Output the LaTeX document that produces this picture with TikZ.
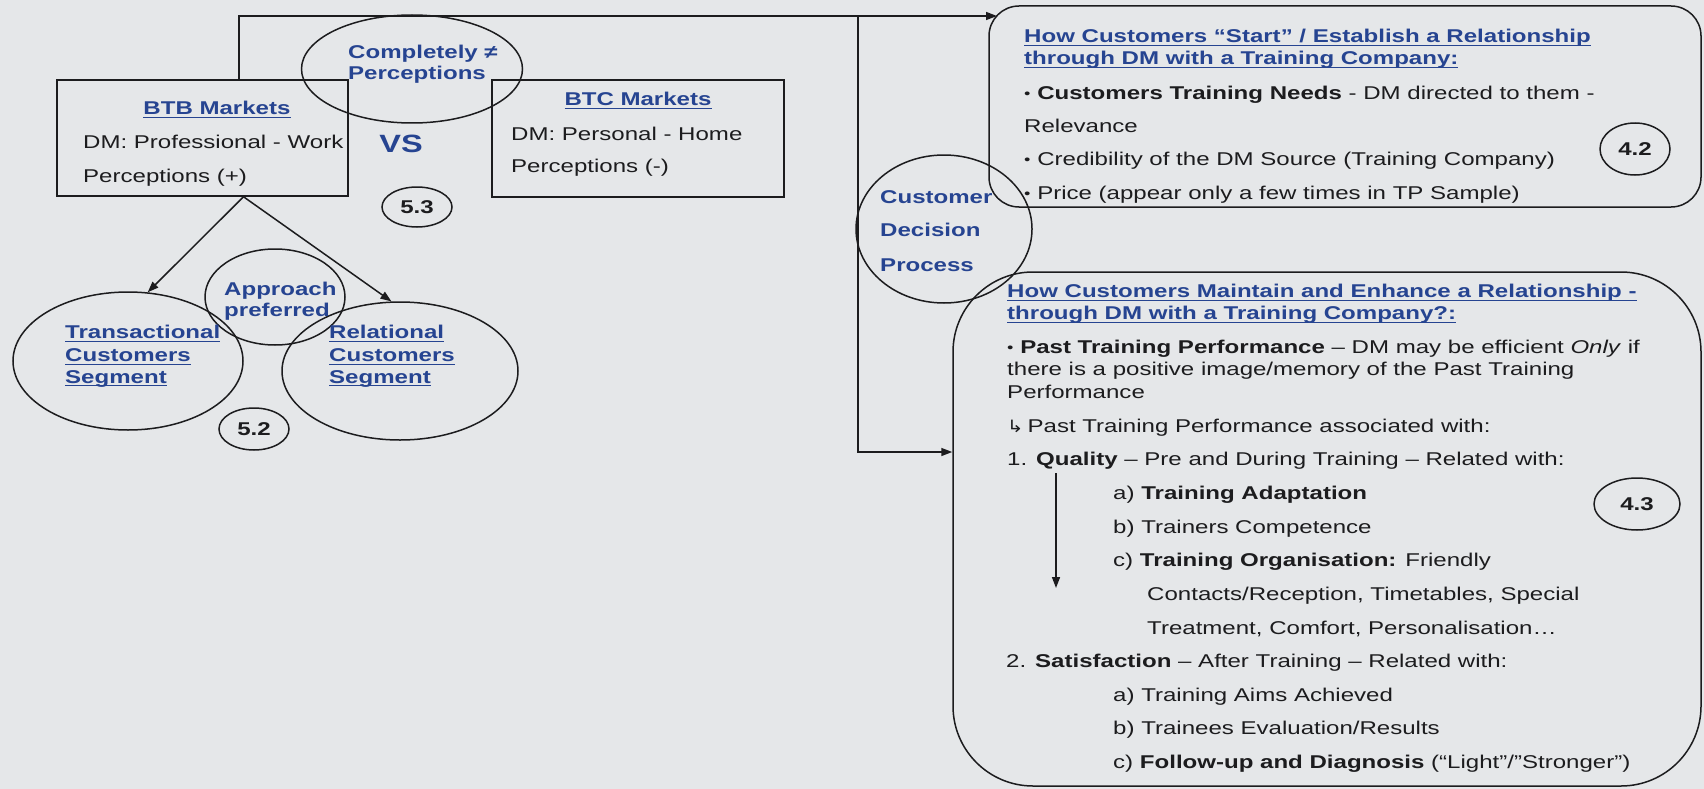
\documentclass[tikz,border=0pt]{standalone}
\usepackage{fontspec}
\setmainfont{Liberation Sans}[FakeStretch=1.3]
\newfontfamily\arrowfont{DejaVu Sans}[FakeStretch=1.15]
\usetikzlibrary{shapes.geometric,arrows.meta}
\definecolor{paper}{RGB}{229,231,233}
\definecolor{ink}{RGB}{28,28,30}
\definecolor{navy}{RGB}{38,68,145}
% underlined heading text: a rule drawn below the box in the current colour
\newcommand\undl[1]{\setbox0\hbox{#1}\rlap{\rule[-3.2pt]{\wd0}{1.1pt}}\box0}
% small list bullet
\newcommand\bul{\raisebox{1.2pt}{\fontsize{14}{14}\selectfont •}}
\begin{document}
\begin{tikzpicture}[x=1pt,y=-1pt,
  every node/.style={inner sep=0pt, text=ink, font=\fontsize{18.5}{22}\selectfont},
  txt/.style={anchor=base west},
  hd/.style={anchor=base west, text=navy, font=\fontsize{18.5}{22}\selectfont\bfseries},
  frame/.style={draw=ink, rectangle, line width=1.5pt},
  oval/.style={draw=ink, ellipse, line width=1.5pt},
  tag/.style={oval, font=\fontsize{18.5}{22}\selectfont\bfseries},
  arr/.style={draw=ink, line width=1.5pt, -{Triangle[length=11pt,width=8pt]}}
]
% page
\fill[paper] (0,0) rectangle (1704,789);
\useasboundingbox (0,0) rectangle (1704,789);

% market boxes
\node[frame, minimum width=291pt, minimum height=116pt] (btb) at (202.5,138) {};
\node[frame, minimum width=292pt, minimum height=117pt] (btc) at (638,138.5) {};
\node[oval, minimum width=221pt, minimum height=108pt] (diff) at (412,69) {};

% relationship panels
\node[frame, rounded corners=30pt, minimum width=712pt, minimum height=201pt] (start) at (1345,106.5) {};
\node[frame, rounded corners=80pt, minimum width=748pt, minimum height=514pt] (keep) at (1327,529) {};
\node[oval, minimum width=176pt, minimum height=148pt] (cdp) at (944,229) {};

% segments
\node[oval, minimum width=230pt, minimum height=138pt] (trans) at (128,361) {};
\node[oval, minimum width=236pt, minimum height=138pt] (rel) at (400,371) {};
\node[oval, minimum width=140pt, minimum height=96pt] (appr) at (275,297) {};

% section tags
\node[tag, minimum width=70pt, minimum height=40pt] (t53) at (417,207) {5.3};
\node[tag, minimum width=70pt, minimum height=42pt] (t52) at (254,429) {5.2};
\node[tag, minimum width=70pt, minimum height=52pt] (t42) at (1635,149) {4.2};
\node[tag, minimum width=86pt, minimum height=52pt] (t43) at (1637,504) {4.3};

% connectors
\coordinate (jA) at (239,16);
\coordinate (jB) at (858,16);
\coordinate (tipA) at (997,16);
\draw[arr] (btb.north -| jA) -- (jA) -- (tipA);
\draw[arr] (jB) |- ([yshift=77pt]keep.west);
\coordinate (apex) at ([xshift=41pt]btb.south);
\draw[arr] (apex) -- (trans.74);
\draw[arr] (apex) -- (rel.97);
\coordinate (qa) at (1056,473);
\coordinate (qb) at (1056,588);
\draw[arr] (qa) -- (qb);

% market texts
\node[hd, anchor=base] (btbT) at (217,115) {\undl{BTB Markets}};
\node[txt] (btb1) at (83,148) {DM: Professional - Work};
\node[txt] (btb2) at (83,182) {Perceptions (+)};
\node[hd, anchor=base] (btcT) at (638,106) {\undl{BTC Markets}};
\node[txt] (btc1) at (511,140) {DM: Personal - Home};
\node[txt] (btc2) at (511,172) {Perceptions (-)};
\node[hd] (diff1) at (348,58.5) {Completely ≠};
\node[hd] (diff2) at (348,79.5) {Perceptions};
\node[text=navy, font=\fontsize{25}{28}\selectfont\bfseries, anchor=base] (vs) at (401,153) {VS};

% segment texts
\node[hd] (ap1) at (224,295.5) {Approach};
\node[hd] (ap2) at (224,316.5) {preferred};
\node[hd] (tr1) at (65,338.5) {\undl{Transactional}};
\node[hd] (tr2) at (65,361.5) {\undl{Customers}};
\node[hd] (tr3) at (65,383) {\undl{Segment}};
\node[hd] (re1) at (329,338.5) {\undl{Relational}};
\node[hd] (re2) at (329,361.5) {\undl{Customers}};
\node[hd] (re3) at (329,383) {\undl{Segment}};

% decision process
\node[hd] (cd1) at (880,203.5) {Customer};
\node[hd] (cd2) at (880,236.5) {Decision};
\node[hd] (cd3) at (880,271) {Process};

% start panel
\node[hd] (s0) at (1024,42.5) {\undl{How Customers “Start” / Establish a Relationship}};
\node[hd] (s1) at (1024,64.5) {\undl{through DM with a Training Company:}};
\node[txt] (s2) at (1024,99.5) {\bul\ \textbf{Customers Training Needs} - DM directed to them -};
\node[txt] (s3) at (1024,132.5) {Relevance};
\node[txt] (s4) at (1024,165.5) {\bul\ Credibility of the DM Source (Training Company)};
\node[txt] (s5) at (1024,199.5) {\bul\ Price (appear only a few times in TP Sample)};

% maintain panel
\node[hd] (k0) at (1007,297.5) {\undl{How Customers Maintain and Enhance a Relationship -}};
\node[hd] (k1) at (1007,319.5) {\undl{through DM with a Training Company?:}};
\node[txt] (k2) at (1007,353.5) {\bul\ \textbf{Past Training Performance} – DM may be efficient \textit{Only} if};
\node[txt] (k3) at (1007,375.5) {there is a positive image/memory of the Past Training};
\node[txt] (k4) at (1007,398) {Performance};
\node[txt] (k5) at (1007,432.5) {{\arrowfont\fontsize{17}{18}\selectfont ↳}\hspace{4pt}Past Training Performance associated with:};
\node[txt] (k6) at (1007,465.5) {1. \textbf{Quality} – Pre and During Training – Related with:};
\node[txt] (k7) at (1113,499.5) {a) \textbf{Training Adaptation}};
\node[txt] (k8) at (1113,533.5) {b) Trainers Competence};
\node[txt] (k9) at (1113,566.5) {c) \textbf{Training Organisation:} Friendly};
\node[txt] (k10) at (1147,600.5) {Contacts/Reception, Timetables, Special};
\node[txt] (k11) at (1147,634.5) {Treatment, Comfort, Personalisation…};
\node[txt] (k12) at (1006,667.5) {2. \textbf{Satisfaction} – After Training – Related with:};
\node[txt] (k13) at (1113,701.5) {a) Training Aims Achieved};
\node[txt] (k14) at (1113,734.5) {b) Trainees Evaluation/Results};
\node[txt] (k15) at (1113,768.5) {c) \textbf{Follow-up and Diagnosis} (“Light”/”Stronger”)};
\end{tikzpicture}
\end{document}
